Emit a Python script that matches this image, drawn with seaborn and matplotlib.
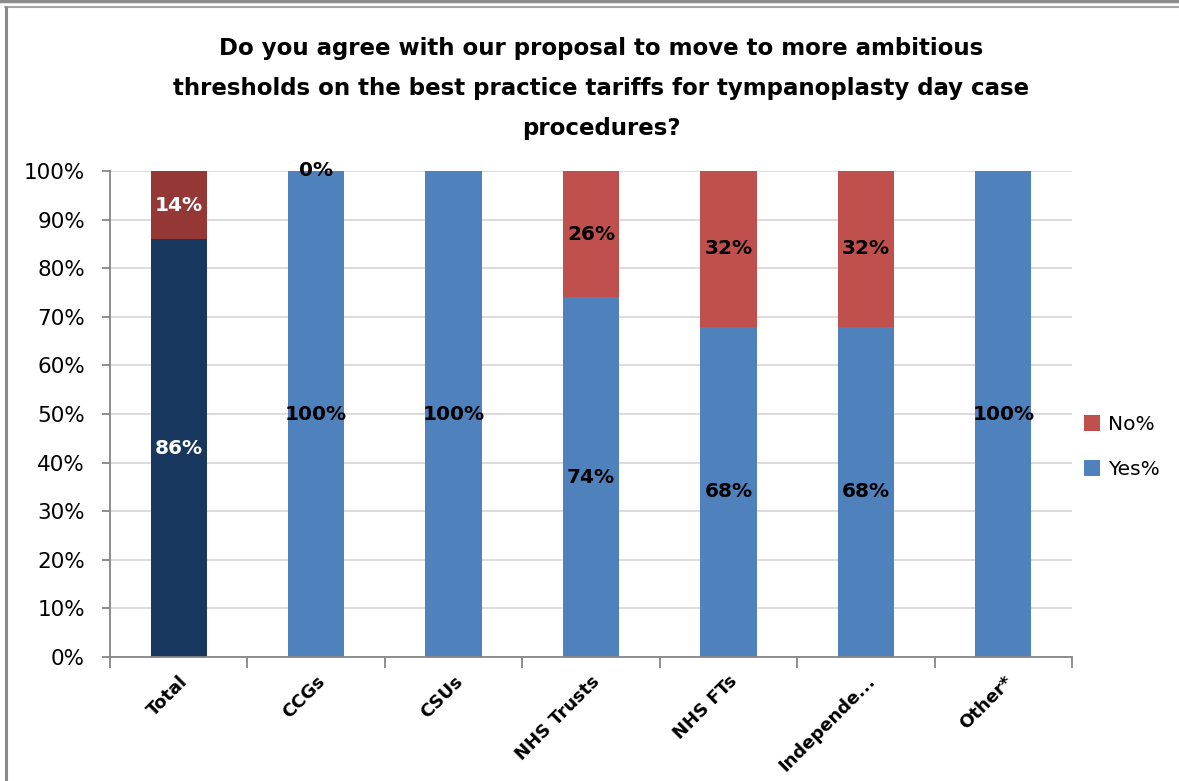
import numpy as np
import pandas as pd
import matplotlib
matplotlib.use("Agg")
import matplotlib.pyplot as plt
from matplotlib.patches import Patch
from matplotlib.lines import Line2D
import seaborn as sns

# Survey responses by respondent group (percent)
categories = ["Total", "CCGs", "CSUs", "NHS Trusts", "NHS FTs", "Independe...", "Other*"]
yes_pct = [86, 100, 100, 74, 68, 68, 100]
no_pct = [14, 0, np.nan, 26, 32, 32, np.nan]

title_lines = ["Do you agree with our proposal to move to more ambitious",
               "thresholds on the best practice tariffs for tympanoplasty day case",
               "procedures?"]

yes_colors = ["#17375E"] + ["#4F81BD"] * 6
no_colors = ["#953735"] + ["#C0504D"] * 6
label_colors = ["white"] + ["black"] * 6

df = pd.DataFrame({"group": categories, "yes": yes_pct, "no": no_pct})
df["stack"] = df["yes"] + df["no"].fillna(0)

sns.set_theme(style="white")
plt.rcParams["font.family"] = ["DejaVu Sans"]
plt.rcParams["text.color"] = "black"
plt.rcParams["xtick.color"] = "black"
plt.rcParams["ytick.color"] = "black"

W, H = 1179, 781
fig = plt.figure(figsize=(W / 100, H / 100), dpi=100)
ax = fig.add_axes([110 / W, 1 - 657 / H, (1072 - 110) / W, (657 - 171) / H])

bar_w = 0.41
# full stack (No on top) first, then Yes over it
sns.barplot(data=df, x="group", y="stack", hue="group", palette=no_colors,
            width=bar_w, legend=False, ax=ax, errorbar=None, linewidth=0,
            saturation=1)
sns.barplot(data=df, x="group", y="yes", hue="group", palette=yes_colors,
            width=bar_w, legend=False, ax=ax, errorbar=None, linewidth=0,
            saturation=1)

ax.set_ylim(0, 100)
ax.set_xlim(-0.5, len(categories) - 0.5)
ax.set_yticks(np.arange(0, 101, 10))
ax.set_yticklabels([f"{v}%" for v in range(0, 101, 10)], fontsize=15.5)
ax.yaxis.grid(True, color="#D9D9D9", linewidth=1.3)
ax.set_axisbelow(True)
ax.set_xlabel("")
ax.set_ylabel("")

for s in ["top", "right"]:
    ax.spines[s].set_visible(False)
for s in ["left", "bottom"]:
    ax.spines[s].set_color("#868686")
    ax.spines[s].set_linewidth(1.3)

ax.tick_params(axis="y", which="major", left=True, length=6, color="#868686",
               width=1.3, pad=12)
# category ticks sit between bars
ax.set_xticks(np.arange(len(categories)))
ax.set_xticklabels(categories, rotation=45, ha="right", rotation_mode="anchor",
                   fontsize=13, fontweight="bold")
ax.tick_params(axis="x", which="major", bottom=False, pad=5)
ax.set_xticks(np.arange(len(categories) + 1) - 0.5, minor=True)
ax.tick_params(axis="x", which="minor", bottom=True, length=8, color="#868686",
               width=1.3)

# value labels
for i, (y, n) in enumerate(zip(yes_pct, no_pct)):
    ax.text(i, y / 2, f"{y:.0f}%", ha="center", va="center", fontsize=14.5,
            fontweight="bold", color=label_colors[i])
    if not np.isnan(n):
        ax.text(i, y + n / 2, f"{n:.0f}%", ha="center", va="center",
                fontsize=14.5, fontweight="bold", color=label_colors[i])

for k, line in enumerate(title_lines):
    fig.text(0.5 + 12 / W, 1 - (48 + 40 * k) / H, line, ha="center",
             va="center", fontsize=16.5, fontweight="bold", color="black")

handles = [Patch(facecolor="#C0504D", edgecolor="none", label="No%"),
           Patch(facecolor="#4F81BD", edgecolor="none", label="Yes%")]
fig.legend(handles=handles, loc="center left",
           bbox_to_anchor=(1066 / W, 1 - 447 / H), frameon=False,
           fontsize=14.5, handlelength=0.8, handleheight=0.8,
           handletextpad=0.4, labelspacing=1.3)

# outer chart frame
frame_c = "#8C8C8C"
fig.add_artist(Line2D([0, 1], [1 - 1 / H, 1 - 1 / H], transform=fig.transFigure,
                      color=frame_c, linewidth=2.5))
fig.add_artist(Line2D([5 / W, 1], [1 - 7 / H, 1 - 7 / H], transform=fig.transFigure,
                      color="#A6A6A6", linewidth=1.5))
fig.add_artist(Line2D([6 / W, 6 / W], [0, 1 - 7 / H], transform=fig.transFigure,
                      color=frame_c, linewidth=2.2))

fig.savefig("out.png", dpi=100, facecolor="white")
